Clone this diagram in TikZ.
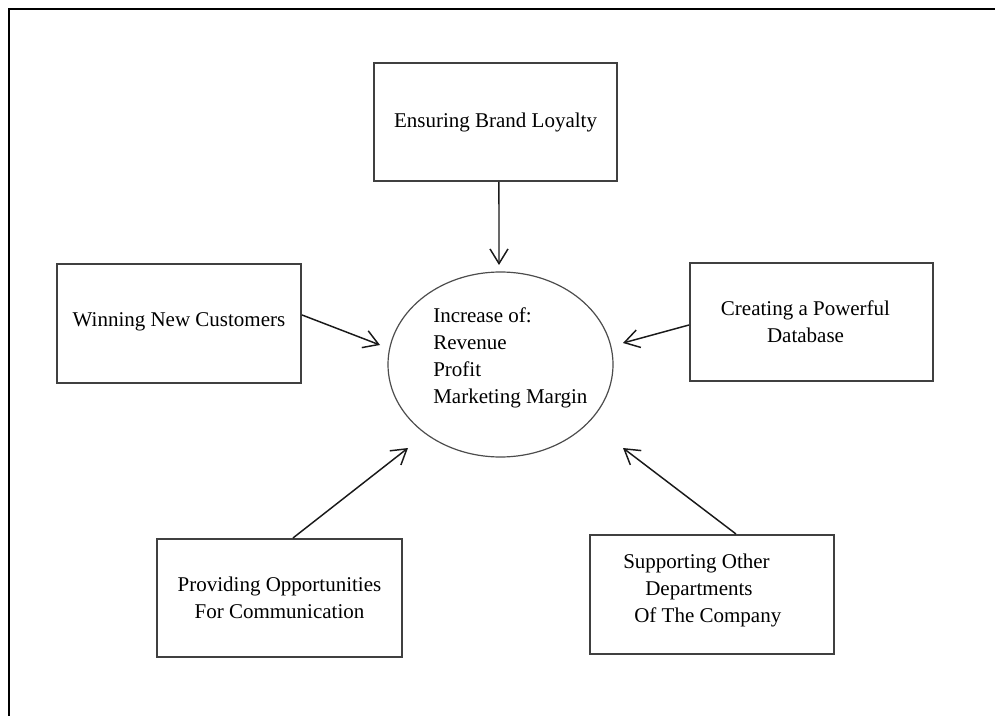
\documentclass[tikz,border=0pt]{standalone}
\usepackage{fontspec}
\setmainfont{Liberation Serif}
\usetikzlibrary{arrows.meta,shapes.geometric}
\begin{document}
\begin{tikzpicture}[x=0.75pt,y=-0.75pt,
  every node/.style={font=\fontsize{15.75}{20.25}\selectfont},
  boxnode/.style={draw=black!75,line width=1.5pt,rectangle,align=center,inner sep=0pt},
  conn/.style={draw=black!90,line width=1.1pt,-{Straight Barb[length=11pt,width=13.5pt]}},
  frameline/.style={draw=black,line width=2pt}
]
\useasboundingbox (0,0) rectangle (995,716);
\draw[frameline] (9,716) -- (9,9) -- (995,9);

\node[boxnode,minimum width=182.25pt,minimum height=88.5pt] (t) at (495.5,122) {Ensuring Brand Loyalty};
\node[boxnode,minimum width=183pt,minimum height=89.25pt] (l) at (179,323.5) {\raisebox{6pt}{Winning New Customers}};
\node[boxnode,minimum width=182.25pt,minimum height=88.5pt] (r) at (811.5,322) {\hspace*{-9pt}Creating a Powerful\\\hspace*{-9pt}Database};
\node[boxnode,minimum width=183.75pt,minimum height=88.5pt] (bl) at (279.5,598) {Providing Opportunities\\For Communication};
\node[boxnode,minimum width=183pt,minimum height=89.25pt] (br) at (712,594.5) {};
\node[align=left,anchor=west,inner sep=0pt] (brt) at (623,590) {Supporting Other\\\hspace*{16.5pt}Departments\\\hspace*{8.25pt}Of The Company};

\node[draw=black!70,line width=0.9pt,ellipse,minimum width=168.75pt,minimum height=138.75pt,inner sep=0pt] (c) at (500.5,364.5) {};
\node[align=left,anchor=west,inner sep=0pt] (ct) at (433,358) {Increase of:\\Revenue\\Profit\\Marketing Margin};

\coordinate (tT) at (499,265);
\coordinate (tL) at (380,345);
\coordinate (tR) at (623,343);
\coordinate (tBL) at (408,448);
\coordinate (tBR) at (623,448);

\draw[conn] ([xshift=2.6pt]t.south) -- (tT);
\draw[conn] ([yshift=6.4pt]l.east) -- (tL);
\draw[conn] ([yshift=-2.25pt]r.west) -- (tR);
\draw[conn] ([xshift=10.1pt]bl.north) -- (tBL);
\draw[conn] ([xshift=18pt]br.north) -- (tBR);
\end{tikzpicture}
\end{document}
